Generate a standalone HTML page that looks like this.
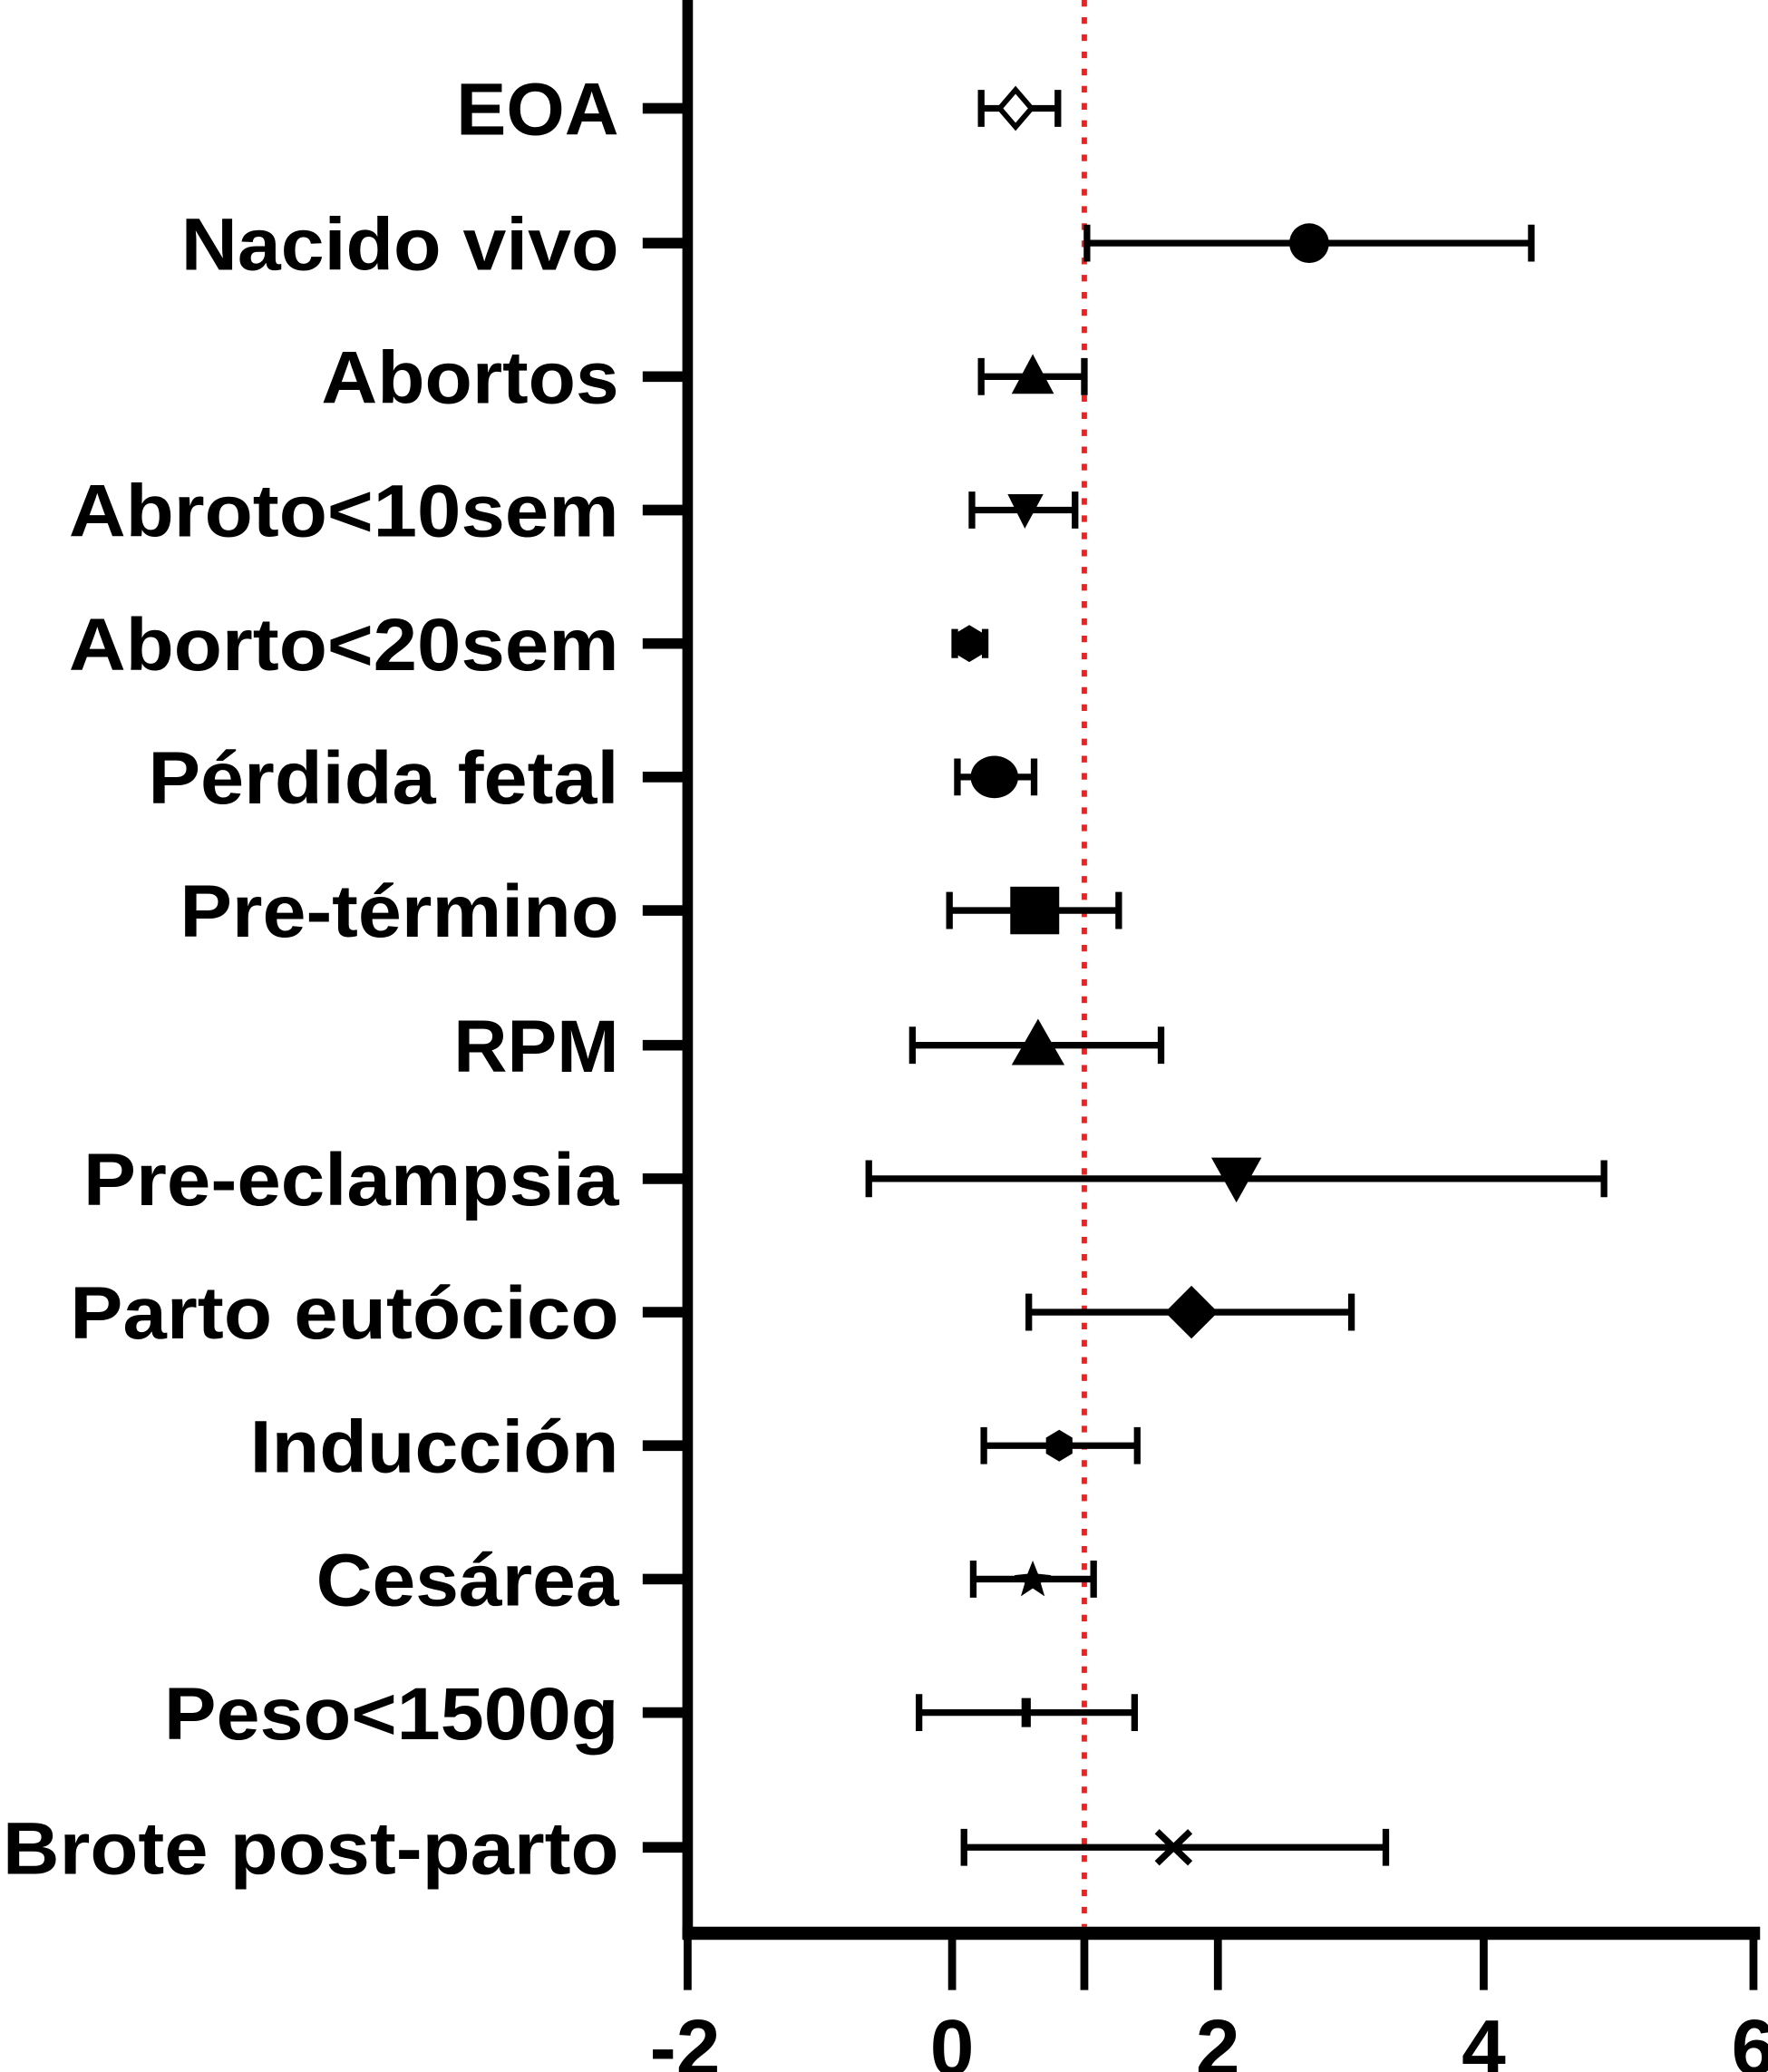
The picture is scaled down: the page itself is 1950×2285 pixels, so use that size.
<!DOCTYPE html>
<html><head><meta charset="utf-8"><style>html,body{margin:0;padding:0;background:#fff}svg{display:block}</style></head>
<body>
<svg width="1950" height="2285" viewBox="0 0 1337 1568" preserveAspectRatio="none" xmlns="http://www.w3.org/2000/svg">
<rect width="1337" height="1568" fill="#fff"/>
<line x1="820" y1="0" x2="820" y2="1458" stroke="#f02020" stroke-width="4" stroke-dasharray="5 8"/>
<line x1="520" y1="0" x2="520" y2="1467" stroke="#000" stroke-width="8"/>
<line x1="516" y1="1463" x2="1331" y2="1463" stroke="#000" stroke-width="10"/>
<g stroke="#000" stroke-width="6">
<line x1="520" y1="1463" x2="520" y2="1506"/><line x1="720" y1="1463" x2="720" y2="1506"/><line x1="820" y1="1463" x2="820" y2="1506"/><line x1="921" y1="1463" x2="921" y2="1506"/><line x1="1122" y1="1463" x2="1122" y2="1506"/><line x1="1326" y1="1463" x2="1326" y2="1506"/>
</g>
<g font-family="Liberation Sans, sans-serif" font-weight="bold" font-size="60" text-anchor="middle" fill="#000">
<text x="518" y="1570">-2</text><text x="720" y="1570">0</text><text x="921" y="1570">2</text><text x="1122" y="1570">4</text><text x="1326" y="1570">6</text>
</g>
<g stroke="#000" stroke-width="8">
<line x1="486" y1="82" x2="520" y2="82"/><line x1="486" y1="184" x2="520" y2="184"/><line x1="486" y1="285" x2="520" y2="285"/><line x1="486" y1="386" x2="520" y2="386"/><line x1="486" y1="487" x2="520" y2="487"/><line x1="486" y1="588" x2="520" y2="588"/><line x1="486" y1="689" x2="520" y2="689"/><line x1="486" y1="791" x2="520" y2="791"/><line x1="486" y1="892" x2="520" y2="892"/><line x1="486" y1="993" x2="520" y2="993"/><line x1="486" y1="1094" x2="520" y2="1094"/><line x1="486" y1="1195" x2="520" y2="1195"/><line x1="486" y1="1296" x2="520" y2="1296"/><line x1="486" y1="1398" x2="520" y2="1398"/>
</g>
<g font-family="Liberation Sans, sans-serif" font-weight="bold" font-size="56" fill="#000" lengthAdjust="spacingAndGlyphs">
<text x="345" y="102" textLength="123" lengthAdjust="spacingAndGlyphs">EOA</text>
<text x="137" y="204" textLength="331" lengthAdjust="spacingAndGlyphs">Nacido vivo</text>
<text x="243" y="305" textLength="225" lengthAdjust="spacingAndGlyphs">Abortos</text>
<text x="52" y="406" textLength="416" lengthAdjust="spacingAndGlyphs">Abroto&lt;10sem</text>
<text x="52" y="507" textLength="416" lengthAdjust="spacingAndGlyphs">Aborto&lt;20sem</text>
<text x="112" y="608" textLength="356" lengthAdjust="spacingAndGlyphs">Pérdida fetal</text>
<text x="136" y="709" textLength="332" lengthAdjust="spacingAndGlyphs">Pre-término</text>
<text x="343" y="811" textLength="125" lengthAdjust="spacingAndGlyphs">RPM</text>
<text x="63" y="912" textLength="405" lengthAdjust="spacingAndGlyphs">Pre-eclampsia</text>
<text x="53" y="1013" textLength="415" lengthAdjust="spacingAndGlyphs">Parto eutócico</text>
<text x="189" y="1114" textLength="279" lengthAdjust="spacingAndGlyphs">Inducción</text>
<text x="239" y="1215" textLength="229" lengthAdjust="spacingAndGlyphs">Cesárea</text>
<text x="124" y="1316" textLength="344" lengthAdjust="spacingAndGlyphs">Peso&lt;1500g</text>
<text x="2" y="1418" textLength="466" lengthAdjust="spacingAndGlyphs">Brote post-parto</text>
</g>
<g stroke="#000" stroke-width="5" fill="none">
<path d="M742 82H800M742 68V96M800 68V96"/>
<path d="M822 184H1158M822 170V198M1158 170V198"/>
<path d="M742 285H820M742 271V299M820 271V299"/>
<path d="M735 386H813M735 372V400M813 372V400"/>
<path d="M722 487H745M722 476V498M745 476V498"/>
<path d="M724 588H782M724 574V602M782 574V602"/>
<path d="M718 689H846M718 675V703M846 675V703"/>
<path d="M690 791H878M690 777V805M878 777V805"/>
<path d="M657 892H1213M657 878V906M1213 878V906"/>
<path d="M778 993H1022M778 979V1007M1022 979V1007"/>
<path d="M744 1094H860M744 1080V1108M860 1080V1108"/>
<path d="M736 1195H827M736 1181V1209M827 1181V1209"/>
<path d="M695 1296H858M695 1282V1310M858 1282V1310"/>
<path d="M729 1398H1048M729 1384V1412M1048 1384V1412"/>
</g>
<path d="M768 68L780 82L768 96L756 82Z" fill="#fff" stroke="#000" stroke-width="4"/>
<circle cx="990" cy="184" r="15" fill="#000"/>
<path d="M781 268L797 298H765Z" fill="#000"/>
<path d="M762 374H789L775 400Z" fill="#000"/>
<path d="M733 473L743 479V495L733 501L723 495V479Z" fill="#000"/>
<ellipse cx="752" cy="588" rx="18" ry="16" fill="#000"/>
<rect x="764" y="671" width="37" height="36" fill="#000"/>
<path d="M785 771L805 806H765Z" fill="#000"/>
<path d="M916 876H954L935 910Z" fill="#000"/>
<path d="M901 973L921 993L901 1013L881 993Z" fill="#000"/>
<path d="M801 1082L811 1088V1100L801 1106L791 1100V1088Z" fill="#000"/>
<path d="M781 1181L785 1191L795 1192L787 1198L790 1208L781 1202L772 1208L775 1198L767 1192L777 1191Z" fill="#000"/>
<path d="M776 1285V1307" stroke="#000" stroke-width="7"/>
<path d="M875 1386L900 1410M875 1410L900 1386" stroke="#000" stroke-width="5"/>
</svg>
</body></html>
